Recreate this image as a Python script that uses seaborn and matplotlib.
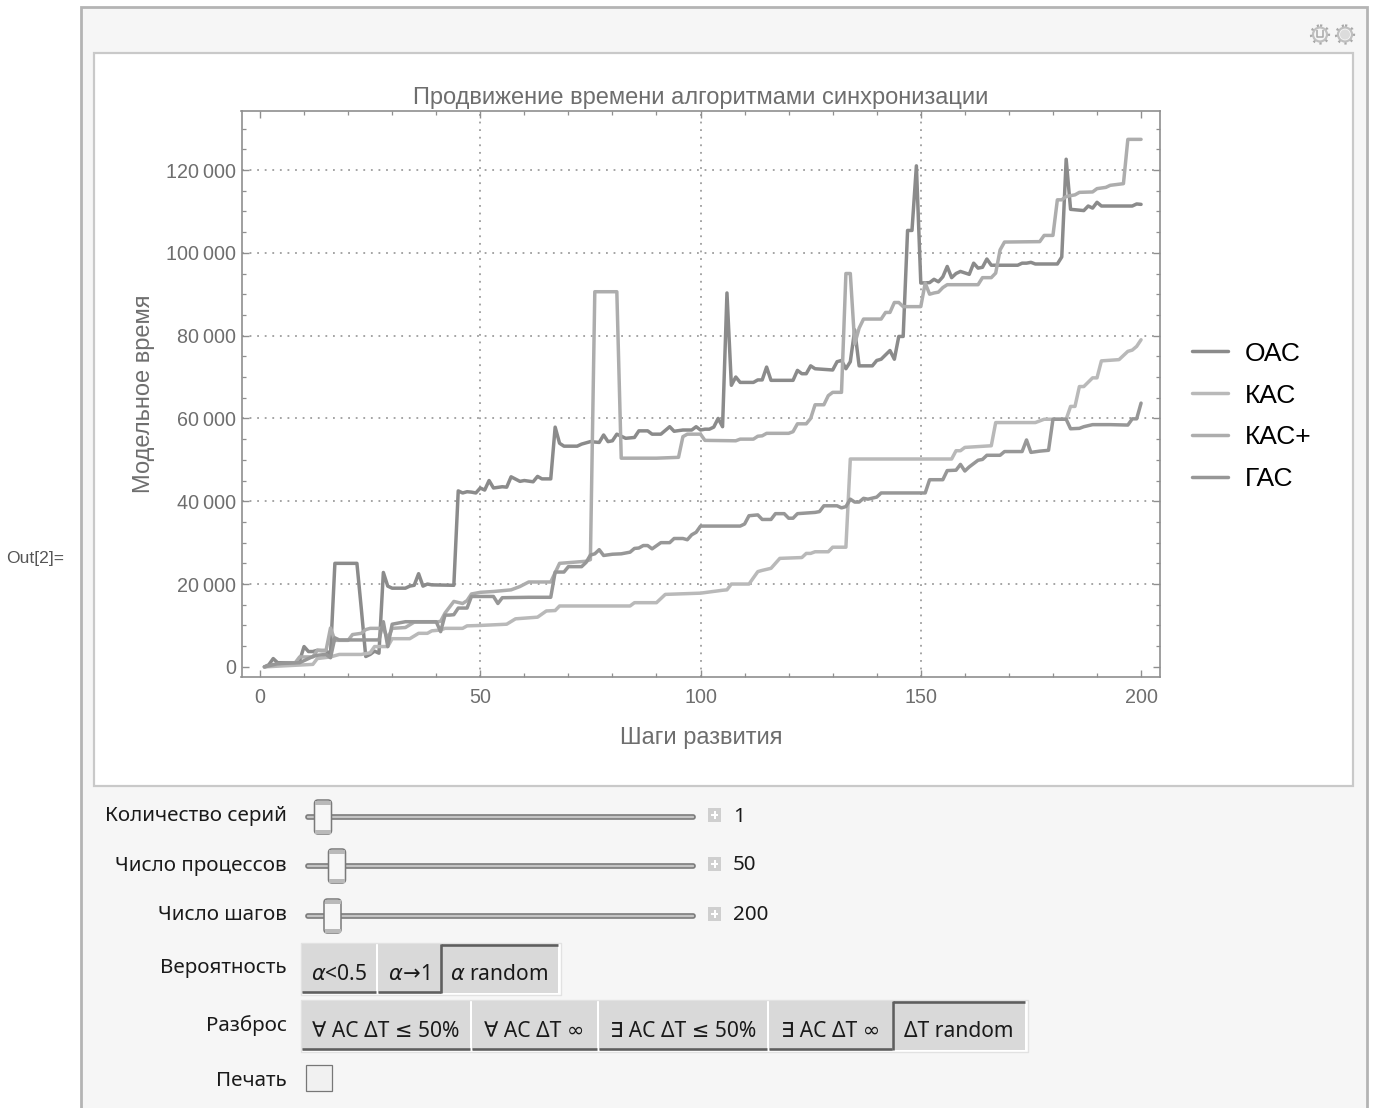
import numpy as np
import pandas as pd
import seaborn as sns
import matplotlib
matplotlib.use("Agg")
import matplotlib.pyplot as plt
from matplotlib.patches import Rectangle, FancyBboxPatch, Circle
from matplotlib.ticker import MultipleLocator, FuncFormatter

# ---------- data (polyline vertices, values in thousands) ----------
oac_x = [1,2,3,4,8,9,10,11,12,13,14,15,16,17,22,23,24,25,26,27,28,29,30,33,34,35,36,37,38,39,44,45,46,47,48,49,50,51,52,53,55,56,57,59,60,62,63,64,66,67,68,69,72,73,75,77,78,79,80,81,83,85,86,88,89,91,93,94,96,98,99,100,101,102,103,104,105,106,107,108,109,112,113,114,115,116,121,122,123,124,125,126,130,131,132,133,134,135,136,139,140,141,143,144,145,146,147,148,149,150,152,153,154,155,156,157,158,159,161,162,163,164,165,166,172,173,174,175,176,181,182,183,184,187,188,189,190,191,198,199,200]
oac_y = [0,0.5,2,1,1,1.5,4.9,3.7,3.7,4,3.9,3.9,3,25,25,14,2.5,3,3.8,3.3,22.8,19.5,19,19,19.5,19.7,22.5,19.5,20,19.8,19.7,42.5,42,42.3,42.2,42,43.2,42.7,45,43.2,43.5,43.4,45.9,44.8,45,44.7,46,45.4,45.4,57.9,54,53.3,53.3,53.8,54.4,54.2,56,54.4,54.6,56.2,55.2,55.4,57,57,56.2,56.2,58,56.9,57.2,57.2,58,57.2,57.4,57.4,57.9,60,58,90.3,68,70,68.7,68.7,69.3,69.3,72.4,69.2,69.2,71.6,70.8,70.8,72.7,72,71.7,73.7,74,72,73.7,81.4,72.7,72.7,74,74.3,76.4,74.3,79.8,79.8,105.4,105.4,121,92.7,92.8,93.6,93,94.2,96.7,94,95,95.5,94.8,97.5,96.3,96.5,98.5,97,97,97.5,97.5,97.7,97.3,97.3,99,122.6,110.5,110.2,111.3,110.8,112.2,111.3,111.3,111.8,111.7]

kas_x = [1,12,13,16,18,23,25,26,29,30,34,36,38,39,41,42,46,47,50,56,58,63,65,67,68,84,85,90,92,100,105,106,107,111,113,114,116,118,123,124,125,126,129,130,133,134,157,158,159,160,166,167,176,178,183,184,185,186,187,189,190,191,195,197,198,199,200]
kas_y = [0,0.6,2,2.4,3,3,3.4,4.9,4.9,6.8,6.8,8.1,8.1,8.7,8.9,9.3,9.3,9.9,10,10.3,11.6,12,13.5,13.6,14.7,14.7,15.5,15.5,17.5,17.8,18.5,18.6,20,20,23,23.3,23.8,26.2,26.4,27.4,27.4,27.8,27.8,28.9,28.9,50.2,50.2,52.2,52.2,53,53.4,59,59,59.8,59.8,62.9,62.9,67.7,67.7,69.8,69.8,73.9,74.2,76.2,76.5,77.4,79]

kasp_x = [1,5,8,9,12,13,15,16,17,20,21,23,24,25,28,29,30,33,35,40,41,42,44,46,47,48,50,53,57,58,59,61,66,68,74,75,76,81,82,90,95,96,97,100,101,108,109,112,113,114,115,120,121,122,124,125,126,128,129,130,132,133,134,135,136,137,141,142,143,144,145,146,150,151,152,153,154,155,156,163,164,166,167,168,169,177,178,180,181,182,183,185,186,189,190,192,193,196,197,200]
kasp_y = [0,0.8,1,2.4,2.4,4,4,9.4,6.4,6.4,7.8,8.1,9,9.3,9.3,6.8,9.3,9.5,10.8,10.8,11,13,15.8,15.3,16,17.6,18,18.2,18.6,19,19.4,20.5,20.5,25,25.5,25.9,90.6,90.6,50.4,50.4,50.6,55.6,56.2,56.2,54.7,54.6,55,55,55.7,55.8,56.4,56.4,56.8,58.7,58.7,60,63.3,63.3,65.5,66.3,66.3,95,95,78,81.8,84,84,85.6,85.6,88,88,87,87,92.7,90,90.3,90.5,91.6,92.3,92.3,94,94,95.1,100.7,102.6,102.7,104.2,104.2,112.8,112.8,113.6,114,114.6,114.7,115.5,115.8,116.3,116.7,127.4,127.4]

gas_x = [1,4,9,10,12,13,15,16,17,18,27,28,29,30,31,32,33,40,41,42,43,44,45,47,48,50,53,54,55,61,66,67,69,70,73,74,75,76,77,78,80,82,84,85,86,87,88,89,91,93,94,96,97,98,99,100,109,110,111,113,114,116,117,119,120,121,122,126,127,128,131,132,133,134,135,136,137,138,140,141,151,152,155,156,158,159,160,161,163,164,165,168,169,173,174,175,177,179,180,183,184,186,187,189,193,197,198,199,200]
gas_y = [0,0.8,1,1.5,2.5,2.8,3,2.2,7,6.5,6.5,10.9,4.9,10.3,10.5,10.7,10.9,10.9,8.5,12.5,12.5,12.6,14.2,14.2,17,17,17,15.3,16.7,16.8,16.8,22.9,22.9,24.2,24.2,25.2,27,27.3,28.3,26.9,27.2,27.3,27.7,28.6,28.7,29.3,29.3,28.5,30,30,31,31,30.7,31.9,32.5,34,34,34.5,36.5,36.7,35.6,35.6,37,37,35.9,35.9,37,37.3,37.5,38.9,38.9,38.4,38.7,40.5,39.8,39.8,40.7,40.5,41,42,42,45.2,45.2,47.4,47.5,48.9,47.3,48.3,49.9,50.1,51.1,51.1,52,52,54.8,51.8,52.1,52.3,59.8,59.8,57.5,57.6,58,58.5,58.5,58.4,59.9,59.9,63.7]

series_names = ["ОАС", "КАС", "КАС+", "ГАС"]
title_text = "Продвижение времени алгоритмами синхронизации"
xlabel_text = "Шаги развития"
ylabel_text = "Модельное время"
sliders = [("Количество серий", "1"), ("Число процессов", "50"), ("Число шагов", "200")]
slider_thumbs = [323, 337, 332.5]
row1 = [r"$\alpha$<0.5", r"$\alpha\!\rightarrow\!$1", r"$\alpha$ random"]
row2 = ["∀ АС ΔТ ≤ 50%", "∀ АС ΔТ ∞", "∃ АС ΔТ ≤ 50%", "∃ АС ΔТ ∞", "ΔТ random"]

df = pd.concat([
    pd.DataFrame({"step": x, "value": np.array(y) * 1000.0, "series": n})
    for x, y, n in zip([oac_x, kas_x, kasp_x, gas_x], [oac_y, kas_y, kasp_y, gas_y], series_names)
])

# ---------- figure ----------
sns.set_theme(style="white")
plt.rcParams["font.family"] = ["Liberation Sans", "DejaVu Sans"]
plt.rcParams["mathtext.fontset"] = "dejavusans"
W, H = 1373, 1108
fig = plt.figure(figsize=(W / 100, H / 100), dpi=100, facecolor="white")

# interface layer in pixel coordinates
ui = fig.add_axes([0, 0, 1, 1], zorder=0)
ui.set_xlim(0, W); ui.set_ylim(H, 0); ui.axis("off")
UI_FONT = ["Noto Sans", "DejaVu Sans"]

def rect(x0, y0, x1, y1, fc, ec="none", lw=0, z=1):
    ui.add_patch(Rectangle((x0, y0), x1 - x0, y1 - y0, fc=fc, ec=ec, lw=lw, zorder=z))

def line(xs, ys, c, lw, z=4, cap="butt"):
    ui.plot(xs, ys, color=c, lw=lw * 0.72, zorder=z, solid_capstyle=cap)

rect(81, 7, 1367, 1112, "#f6f6f6", "#b4b4b4", 2.0)
rect(94, 53, 1353, 786, "white", "#c9c9c9", 1.6)
ui.text(6, 558, "Out[2]=", fontsize=12.6, color="#555555", va="center", family="Liberation Sans")

# gear icons
for cx, inner in [(1320, True), (1345, False)]:
    ui.add_patch(Circle((cx, 34.5), 7, fc="none", ec="#c0c0c0", lw=1.6, zorder=3))
    ui.add_patch(Circle((cx, 34.5), 9, fc="none", ec="#a8a8a8", lw=1.6, ls=(0, (1, 2)), zorder=3))
    if inner:
        line([cx - 3, cx - 3, cx + 3, cx + 3], [30, 37, 37, 30], "#a5a5a5", 1.5)
    else:
        ui.add_patch(Circle((cx, 34.5), 5, fc="#dcdcdc", ec="none", zorder=3))

# sliders
for (label, val), thumb, ty in zip(sliders, slider_thumbs, [817, 866, 916]):
    ui.text(287, ty - 0.5, label, ha="right", va="center", fontsize=14.8, family=UI_FONT, color="#1a1a1a")
    ui.add_patch(FancyBboxPatch((306, ty - 2), 389, 4, boxstyle="round,pad=0,rounding_size=2",
                                fc="#c4c4c4", ec="#7c7c7c", lw=1.2, zorder=3))
    ui.add_patch(FancyBboxPatch((thumb - 8.5, ty - 17), 17, 34, boxstyle="round,pad=0,rounding_size=3.5",
                                fc="#f7f7f7", ec="#7a7a7a", lw=1.1, zorder=5))
    rect(thumb - 8, ty - 16, thumb + 8, ty - 12, "#b9b9b9", z=6)
    rect(thumb - 8, ty + 13, thumb + 8, ty + 16.5, "#b9b9b9", z=6)
    rect(708, ty - 9, 721, ty + 5, "#cfcfcf", z=3)
    line([711, 718], [ty - 2, ty - 2], "white", 2)
    line([714.5, 714.5], [ty - 6, ty + 2], "white", 2)
    ui.text(733, ty - 0.5, val, ha="left", va="center", fontsize=14.8, family=UI_FONT, color="#1a1a1a")

# button rows
ui.text(287, 968.5, "Вероятность", ha="right", va="center", fontsize=14.8, family=UI_FONT, color="#1a1a1a")
ui.text(287, 1026, "Разброс", ha="right", va="center", fontsize=14.8, family=UI_FONT, color="#1a1a1a")
ui.text(287, 1081, "Печать", ha="right", va="center", fontsize=14.8, family=UI_FONT, color="#1a1a1a")

def button_row(edges, labels, y0, y1):
    rect(edges[0][0] - 1, y0 - 1, edges[-1][1] + 3, y1 + 2, "white", "#e2e2e2", 1.0, z=2)
    for k, ((a, b), t) in enumerate(zip(edges, labels)):
        rect(a, y0, b, y1, "#d9d9d9", z=3)
        ui.text((a + b) / 2, y0 + 30.5, t, ha="center", va="center", fontsize=15.1,
                family=UI_FONT, color="#1a1a1a", zorder=6)
        if k < len(edges) - 1:
            line([a, b], [y1 - 1, y1 - 1], "#5e5e5e", 2.6)
        else:
            line([a, b], [y0 + 0.5, y0 + 0.5], "#5e5e5e", 2.6)
            line([a, a], [y0, y1], "#5e5e5e", 2.6)

button_row([(302, 376), (378, 441), (441, 558)], row1, 944, 993)
button_row([(302, 470), (472, 597), (599, 767), (769, 892), (893, 1025)], row2, 1001, 1050)
rect(306, 1065, 332, 1091, "#f1f1f1", "#777777", 0.9)

# chart
ax = fig.add_axes([241.5 / W, 1 - 677 / H, (1160 - 241.5) / W, (677 - 111) / H], zorder=2)
palette = dict(zip(series_names, ["#8b8b8b", "#b9b9b9", "#adadad", "#979797"]))
sns.lineplot(data=df, x="step", y="value", hue="series", hue_order=series_names, palette=palette,
             estimator=None, sort=False, linewidth=2.5, ax=ax)
ax.set_xlim(-4.2, 204.3)
ax.set_ylim(-2450, 134250)
ax.set_facecolor("white")

frame = "#8f8f8f"; tick_text = "#6e6e6e"
for s in ax.spines.values():
    s.set_color(frame); s.set_linewidth(1.2); s.set_visible(True)
ax.xaxis.set_major_locator(MultipleLocator(50)); ax.xaxis.set_minor_locator(MultipleLocator(10))
ax.yaxis.set_major_locator(MultipleLocator(20000)); ax.yaxis.set_minor_locator(MultipleLocator(5000))
ax.yaxis.set_major_formatter(FuncFormatter(lambda v, p: f"{int(v):,}".replace(",", "\u2009")))
ax.tick_params(which="major", direction="in", length=5, width=1.0, color=frame, top=True, right=True,
               left=True, bottom=True, labelsize=14.2, labelcolor=tick_text)
ax.tick_params(which="minor", direction="in", length=2.6, width=0.9, color=frame, top=True, right=True,
               left=True, bottom=True)
ax.tick_params(axis="x", which="major", pad=8)
ax.tick_params(axis="y", which="major", pad=4)
ax.grid(True, which="major", color="#9d9d9d", lw=1.3, ls=(0, (1, 3.2)))
ax.set_axisbelow(True)
for loc, tick in zip(ax.get_xticks(), ax.xaxis.get_major_ticks()):
    if loc in (0, 200):
        tick.gridline.set_visible(False)
for loc, tick in zip(ax.get_yticks(), ax.yaxis.get_major_ticks()):
    if loc == 0:
        tick.gridline.set_visible(False)

ax.set_title(title_text, fontsize=17, color=tick_text, pad=5)
ax.set_xlabel(xlabel_text, fontsize=17, color=tick_text)
ax.set_ylabel(ylabel_text, fontsize=17, color=tick_text)
ax.xaxis.set_label_coords(0.5, -0.108)
ax.yaxis.set_label_coords(-0.1065, 0.5)
ax.xaxis.label.set_va("center")
ax.yaxis.label.set_va("center")

h, l = ax.get_legend_handles_labels()
ax.legend(h, l, loc="center left", bbox_to_anchor=((1192 - 241.5) / 918.5, (677 - 416.5) / 566),
          frameon=False, fontsize=19, handlelength=1.37, handletextpad=0.64, labelspacing=0.68,
          borderpad=0, borderaxespad=0, labelcolor="black")
for t in ax.get_legend().get_lines():
    t.set_linewidth(2.5)

fig.savefig("out.png", dpi=100, facecolor="white")
